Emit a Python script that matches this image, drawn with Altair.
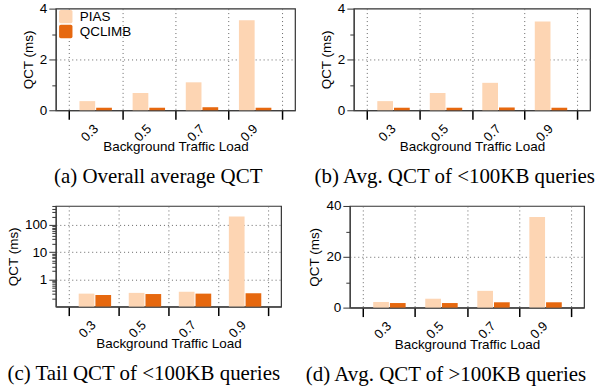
import altair as alt
import pandas as pd

loads = ["0.3", "0.5", "0.7", "0.9"]
schemes = ["PIAS", "QCLIMB"]

overall_pias = [0.36, 0.68, 1.10, 3.54]
overall_qclimb = [0.10, 0.10, 0.12, 0.10]

small_avg_pias = [0.36, 0.68, 1.08, 3.49]
small_avg_qclimb = [0.10, 0.10, 0.11, 0.10]

small_tail_pias = [0.30, 0.32, 0.35, 204.0]
small_tail_qclimb = [0.27, 0.29, 0.30, 0.31]

large_avg_pias = [2.2, 3.5, 6.6, 35.7]
large_avg_qclimb = [1.8, 1.8, 2.1, 2.1]

captions = [
    "(a) Overall average QCT",
    "(b) Avg. QCT of <100KB queries",
    "(c) Tail QCT of <100KB queries",
    "(d) Avg. QCT of >100KB queries",
]

colors = ["#FDD5B3", "#E6680F"]
SANS = "Liberation Sans"
SERIF = "Liberation Serif"
FS = 13.5


def table(pias, qclimb):
    rows = []
    for i, l in enumerate(loads):
        rows.append({"load": l, "scheme": "PIAS", "value": pias[i]})
        rows.append({"load": l, "scheme": "QCLIMB", "value": qclimb[i]})
    return pd.DataFrame(rows)


def panel(pias, qclimb, caption, width, height, ydomain, yvalues, major, log=False, legend=False):
    df = table(pias, qclimb)
    major_test = " || ".join(f"datum.value == {m}" for m in major)
    xaxis = alt.Axis(
        title="Background Traffic Load",
        titleFont=SANS, titleFontSize=FS, titleFontWeight="normal", titleColor="#000",
        titlePadding=-4,
        labelFont=SANS, labelFontSize=13, labelColor="#000",
        labelAngle=-45, labelAlign="right", labelBaseline="middle", labelPadding=7,
        tickBand="extent", tickSize=9, tickWidth=1.5, tickColor="#000",
        domainColor="#444", domainWidth=1.2,
        grid=True, gridDash=[1, 3], gridColor="#666", gridWidth=1,
    )
    yaxis = alt.Axis(
        title="QCT (ms)",
        titleFont=SANS, titleFontSize=FS, titleFontWeight="normal", titleColor="#000",
        titlePadding=4,
        labelFont=SANS, labelFontSize=FS, labelColor="#000", labelPadding=2,
        values=yvalues,
        labelExpr=f"({major_test}) ? format(datum.value, 'd') : ''",
        tickSize={"condition": {"test": major_test, "value": 7}, "value": 4},
        tickColor="#333", tickWidth=1,
        domainColor="#444", domainWidth=1.2,
        grid=True, gridDash=[1, 3], gridColor="#666", gridWidth=1,
        gridOpacity={"condition": {"test": f"({major_test}) && datum.value != {ydomain[0]} && datum.value != {ydomain[1]}", "value": 1}, "value": 0},
    )
    if log:
        yscale = alt.Scale(type="log", domain=ydomain, nice=False)
    else:
        yscale = alt.Scale(domain=ydomain, nice=False)
    if legend:
        leg = alt.Legend(
            title=None, orient="none", legendX=3, legendY=1,
            labelFont=SANS, labelFontSize=FS, labelColor="#000",
            symbolType="M-0.75,-1H0.75Q1,-1 1,-0.75V0.75Q1,1 0.75,1H-0.75Q-1,1 -1,0.75V-0.75Q-1,-1 -0.75,-1Z",
            symbolSize=180, symbolStrokeWidth=0, symbolOpacity=1,
            rowPadding=1, labelOffset=7,
        )
    else:
        leg = None
    enc = dict(
        x=alt.X("load:N", sort=loads, axis=xaxis,
                scale=alt.Scale(paddingInner=0, paddingOuter=0.25)),
        xOffset=alt.XOffset("scheme:N", sort=schemes,
                            scale=alt.Scale(paddingInner=0.06, paddingOuter=0.62)),
        y=alt.Y("value:Q", scale=yscale, axis=yaxis),
        color=alt.Color("scheme:N", sort=schemes,
                        scale=alt.Scale(domain=schemes, range=colors), legend=leg),
    )
    if log:
        enc["y2"] = alt.datum(ydomain[0])
    return alt.Chart(df).mark_bar(opacity=1).encode(**enc).properties(
        width=width, height=height,
        title=alt.TitleParams(caption, orient="bottom", anchor="middle", frame="bounds",
                              font=SERIF, fontSize=21, fontWeight="normal", color="#000",
                              offset=13),
    )


a = panel(overall_pias, overall_qclimb, captions[0], 240, 102, [0, 4], [0, 1, 2, 3, 4], [0, 2, 4], legend=True)
b = panel(small_avg_pias, small_avg_qclimb, captions[1], 237, 102, [0, 4], [0, 1, 2, 3, 4], [0, 2, 4])
tail_vals = [0.2, 0.3, 0.4, 0.5, 0.6, 0.7, 0.8, 0.9, 1, 2, 3, 4, 5, 6, 7, 8, 9,
             10, 20, 30, 40, 50, 60, 70, 80, 90, 100, 200, 300, 400, 500]
c = panel(small_tail_pias, small_tail_qclimb, captions[2], 226, 101, [0.1, 500], tail_vals, [1, 10, 100], log=True)
d = panel(large_avg_pias, large_avg_qclimb, captions[3], 235, 102, [0, 40], [0, 10, 20, 30, 40], [0, 20, 40])

row1 = alt.hconcat(a, b, spacing=17).resolve_scale(color="independent")
row2 = alt.hconcat(c, d, spacing=22).resolve_scale(color="independent")
chart = alt.vconcat(row1, row2, spacing=10).resolve_scale(color="independent").properties(
    padding={"left": 5, "top": 0, "right": 0, "bottom": 0}
).configure_view(stroke="#333", strokeWidth=1.2)

chart.save("out.html", embed_options={"renderer": "svg", "actions": False})
